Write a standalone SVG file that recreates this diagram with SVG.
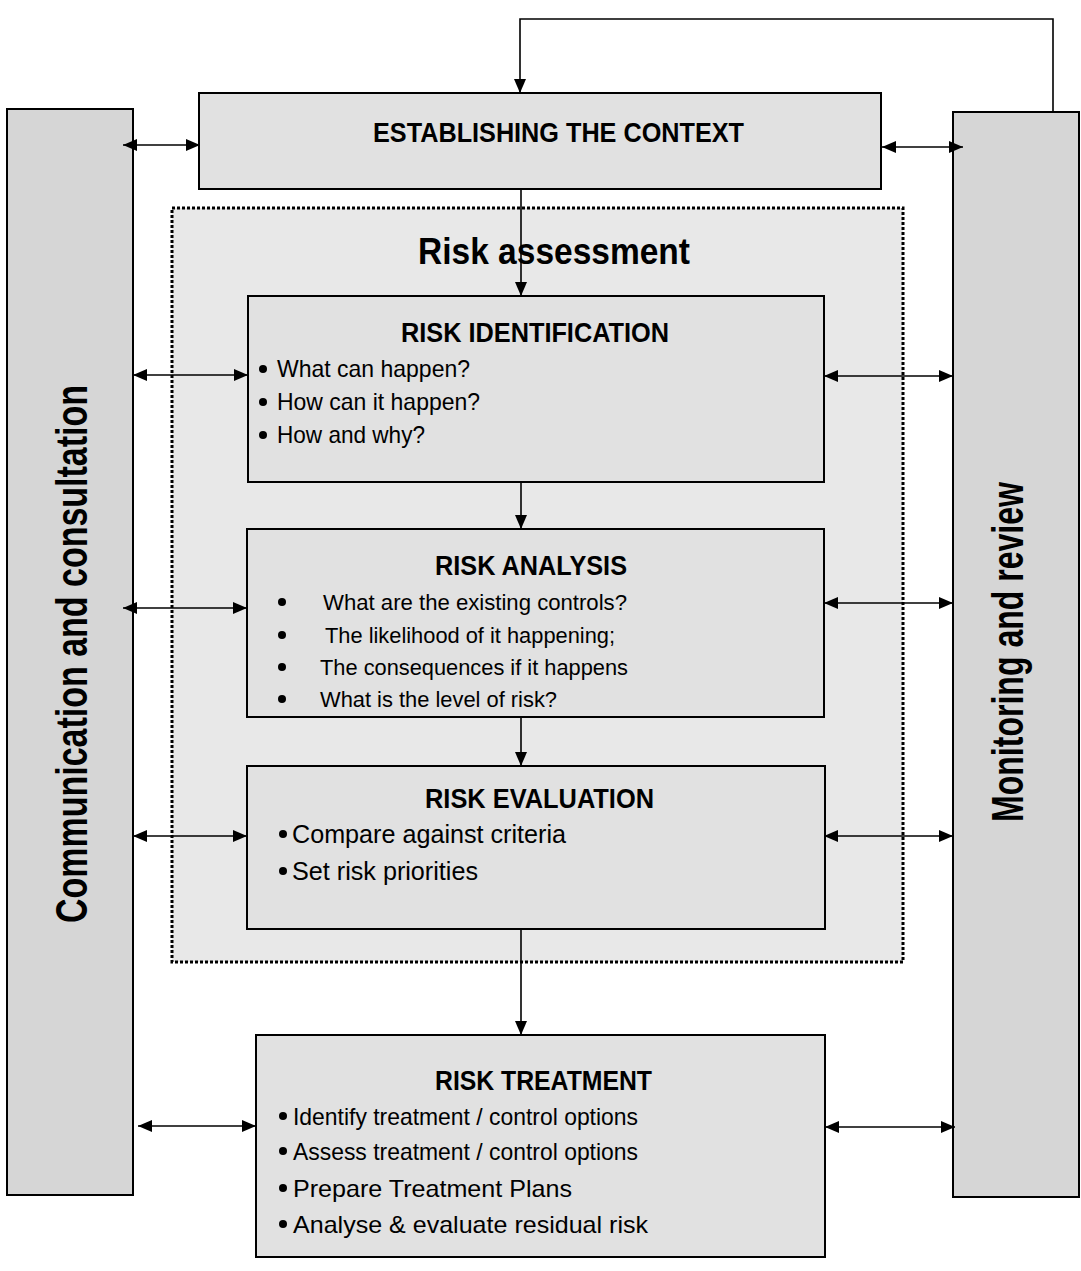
<svg xmlns="http://www.w3.org/2000/svg" width="1081" height="1271" viewBox="0 0 1081 1271">
  <style>
    .bar { fill: #d6d6d6; stroke: #000; stroke-width: 2; }
    .box { fill: #e1e1e1; stroke: #000; stroke-width: 2; }
    .zone { fill: #e8e8e8; stroke: #000; stroke-width: 3; stroke-dasharray: 3 2; }
    .t { font-family: "Liberation Sans", Arial, sans-serif; fill: #000; }
    .title { font-weight: bold; font-size: 27px; }
    .side { font-weight: bold; font-size: 44px; }
    .big { font-weight: bold; font-size: 36px; }
    .b24 { font-size: 24px; }
    .b22 { font-size: 22px; }
    .b26 { font-size: 26px; }
    .dot { fill: #000; }
    .link { fill: none; stroke: #000; stroke-width: 1.6; }
  </style>
  <defs>
    <marker id="ah" viewBox="0 0 14 12" refX="14" refY="6" markerWidth="14" markerHeight="12" markerUnits="userSpaceOnUse" orient="auto-start-reverse">
      <path d="M0,0 L14,6 L0,12 z" fill="#000"/>
    </marker>
  </defs>

  <rect width="1081" height="1271" fill="#fff"/>

  <!-- side bars -->
  <g id="communication">
    <rect class="bar" x="7" y="109" width="126" height="1086"/>
    <text class="t side" transform="translate(87,654) rotate(-90)" text-anchor="middle" textLength="538" lengthAdjust="spacingAndGlyphs">Communication and consultation</text>
  </g>
  <g id="monitoring">
    <rect class="bar" x="953" y="112" width="126" height="1085"/>
    <text class="t side" transform="translate(1023,652) rotate(-90)" text-anchor="middle" textLength="340" lengthAdjust="spacingAndGlyphs">Monitoring and review</text>
  </g>

  <!-- risk assessment zone -->
  <g id="risk-assessment">
    <rect class="zone" x="172" y="208" width="731" height="754"/>
    <text class="t big" x="418" y="264" textLength="272" lengthAdjust="spacingAndGlyphs">Risk assessment</text>
  </g>

  <g id="context">
    <rect class="box" x="199" y="93" width="682" height="96"/>
    <text class="t title" x="373" y="142" textLength="371" lengthAdjust="spacingAndGlyphs">ESTABLISHING THE CONTEXT</text>
  </g>

  <g id="identification">
    <rect class="box" x="248" y="296" width="576" height="186"/>
    <text class="t title" x="401" y="342" textLength="268" lengthAdjust="spacingAndGlyphs">RISK IDENTIFICATION</text>
    <circle class="dot" cx="263" cy="369" r="4"/>
    <circle class="dot" cx="263" cy="402" r="4"/>
    <circle class="dot" cx="263" cy="435" r="4"/>
    <text class="t b24" x="277" y="377" textLength="193" lengthAdjust="spacingAndGlyphs">What can happen?</text>
    <text class="t b24" x="277" y="410" textLength="203" lengthAdjust="spacingAndGlyphs">How can it happen?</text>
    <text class="t b24" x="277" y="443" textLength="148" lengthAdjust="spacingAndGlyphs">How and why?</text>
  </g>

  <g id="analysis">
    <rect class="box" x="247" y="529" width="577" height="188"/>
    <text class="t title" x="435" y="575" textLength="192" lengthAdjust="spacingAndGlyphs">RISK ANALYSIS</text>
    <circle class="dot" cx="282" cy="602" r="4"/>
    <circle class="dot" cx="282" cy="635" r="4"/>
    <circle class="dot" cx="282" cy="667" r="4"/>
    <circle class="dot" cx="282" cy="699" r="4"/>
    <text class="t b22" x="323" y="610" textLength="304" lengthAdjust="spacingAndGlyphs">What are the existing controls?</text>
    <text class="t b22" x="325" y="643" textLength="290" lengthAdjust="spacingAndGlyphs">The likelihood of it happening;</text>
    <text class="t b22" x="320" y="675" textLength="308" lengthAdjust="spacingAndGlyphs">The consequences if it happens</text>
    <text class="t b22" x="320" y="707" textLength="237" lengthAdjust="spacingAndGlyphs">What is the level of risk?</text>
  </g>

  <g id="evaluation">
    <rect class="box" x="247" y="766" width="578" height="163"/>
    <text class="t title" x="425" y="808" textLength="229" lengthAdjust="spacingAndGlyphs">RISK EVALUATION</text>
    <circle class="dot" cx="283" cy="834" r="4"/>
    <circle class="dot" cx="283" cy="871" r="4"/>
    <text class="t b26" x="292" y="843" textLength="274" lengthAdjust="spacingAndGlyphs">Compare against criteria</text>
    <text class="t b26" x="292" y="880" textLength="186" lengthAdjust="spacingAndGlyphs">Set risk priorities</text>
  </g>

  <g id="treatment">
    <rect class="box" x="256" y="1035" width="569" height="222"/>
    <text class="t title" x="435" y="1090" textLength="217" lengthAdjust="spacingAndGlyphs">RISK TREATMENT</text>
    <circle class="dot" cx="283" cy="1116" r="4"/>
    <circle class="dot" cx="283" cy="1151" r="4"/>
    <circle class="dot" cx="283" cy="1188" r="4"/>
    <circle class="dot" cx="283" cy="1224" r="4"/>
    <text class="t b24" x="293" y="1125" textLength="345" lengthAdjust="spacingAndGlyphs">Identify treatment / control options</text>
    <text class="t b24" x="293" y="1160" textLength="345" lengthAdjust="spacingAndGlyphs">Assess treatment / control options</text>
    <text class="t b24" x="293" y="1197" textLength="279" lengthAdjust="spacingAndGlyphs">Prepare Treatment Plans</text>
    <text class="t b24" x="293" y="1233" textLength="355" lengthAdjust="spacingAndGlyphs">Analyse &amp; evaluate residual risk</text>
  </g>

  <!-- connectors -->
  <g id="connectors">
    <!-- feedback loop from monitoring back to context -->
    <path class="link" d="M1053,112 V19 H520 V93" marker-end="url(#ah)"/>
    <!-- main flow -->
    <line class="link" x1="521" y1="189" x2="521" y2="296" marker-end="url(#ah)"/>
    <line class="link" x1="521" y1="482" x2="521" y2="529" marker-end="url(#ah)"/>
    <line class="link" x1="521" y1="717" x2="521" y2="766" marker-end="url(#ah)"/>
    <line class="link" x1="521" y1="929" x2="521" y2="1035" marker-end="url(#ah)"/>
    <!-- communication links -->
    <line class="link" x1="123" y1="145" x2="200" y2="145" marker-start="url(#ah)" marker-end="url(#ah)"/>
    <line class="link" x1="133" y1="375" x2="248" y2="375" marker-start="url(#ah)" marker-end="url(#ah)"/>
    <line class="link" x1="123" y1="608" x2="247" y2="608" marker-start="url(#ah)" marker-end="url(#ah)"/>
    <line class="link" x1="133" y1="836" x2="247" y2="836" marker-start="url(#ah)" marker-end="url(#ah)"/>
    <line class="link" x1="138" y1="1126" x2="256" y2="1126" marker-start="url(#ah)" marker-end="url(#ah)"/>
    <!-- monitoring links -->
    <line class="link" x1="882" y1="147" x2="963" y2="147" marker-start="url(#ah)" marker-end="url(#ah)"/>
    <line class="link" x1="824" y1="376" x2="953" y2="376" marker-start="url(#ah)" marker-end="url(#ah)"/>
    <line class="link" x1="824" y1="603" x2="953" y2="603" marker-start="url(#ah)" marker-end="url(#ah)"/>
    <line class="link" x1="824" y1="836" x2="953" y2="836" marker-start="url(#ah)" marker-end="url(#ah)"/>
    <line class="link" x1="825" y1="1127" x2="955" y2="1127" marker-start="url(#ah)" marker-end="url(#ah)"/>
  </g>
</svg>
